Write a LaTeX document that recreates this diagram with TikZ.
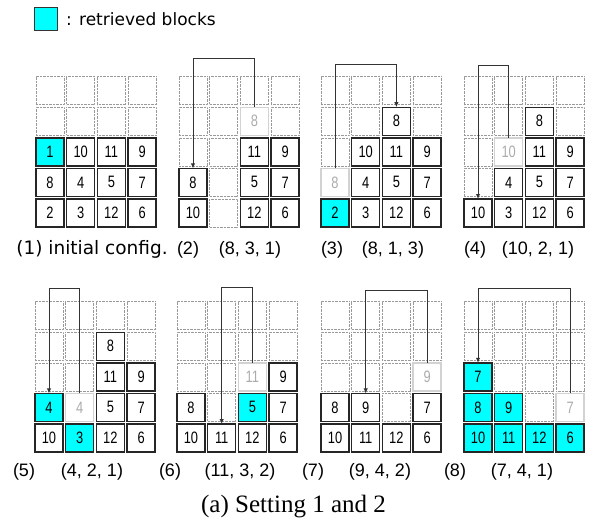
\documentclass[tikz,border=0pt]{standalone}
\usepackage{fontspec}
\setmainfont{DejaVu Sans}
\newfontfamily\numfont[FakeStretch=0.78]{Liberation Sans}
\newfontfamily\labfont{Liberation Sans}
\newfontfamily\capfont{Liberation Serif}
\usetikzlibrary{arrows.meta}
\definecolor{retr}{HTML}{00FFFF}
\tikzset{
 cellbase/.style={minimum size=28pt, inner sep=0pt, outer sep=0pt, font=\numfont\fontsize{16.5}{16.5}\selectfont},
 dotcell/.style={cellbase, draw=gray!80, dash pattern=on 0.5pt off 0.9pt, line width=0.6pt},
 blk/.style={cellbase, draw=black!85, line width=1.4pt, fill=white},
 cblk/.style={blk, fill=retr},
 gblk/.style={cellbase, draw=gray!35, line width=1.4pt, fill=white, text=gray!65},
 mv/.style={draw=black!80, line width=1pt, -{Latex[length=5pt,width=4.5pt]}},
 lab/.style={font=\labfont\fontsize{18}{18}\selectfont, anchor=base},
}
\newcommand\gridcells[3]{\foreach \c in {1,...,4}{\foreach \r in {1,...,5}{%
  \node[dotcell] (#1g\c\r) at ({#2+14+(\c-1)*30.7},{#3-14-(\r-1)*30.6}) {};}}}
\newcommand\blocks[5]{\foreach \c/\r/\n in {#5}{%
  \node[#4] (#1b\c\r) at ({#2+14+(\c-1)*30.7},{#3-14-(\r-1)*30.6}) {\n};}}
\begin{document}
\begin{tikzpicture}[x=1pt,y=-1pt]
\useasboundingbox (0,0) rectangle (590,522);
% legend
\node[draw=black!80, fill=retr, minimum size=23pt, inner sep=0pt, line width=0.8pt] (leg) at (45.5,18.5) {};
\node[anchor=base west, font=\fontsize{17}{17}\selectfont, inner sep=0pt] (legt) at (66,25) {: retrieved blocks};
% panel 1
\gridcells{p1}{36}{227}
\blocks{p1}{36}{227}{blk}{1/1/2,2/1/3,3/1/12,4/1/6,1/2/8,2/2/4,3/2/5,4/2/7,2/3/10,3/3/11,4/3/9}
\blocks{p1}{36}{227}{cblk}{1/3/1}
\node[anchor=base, font=\fontsize{18.5}{18.5}\selectfont, inner sep=0pt] (l1) at (92,254) {(1) initial config.};
% panel 2
\gridcells{p2}{179}{227}
\blocks{p2}{179}{227}{blk}{1/1/10,3/1/12,4/1/6,1/2/8,3/2/5,4/2/7,3/3/11,4/3/9}
\blocks{p2}{179}{227}{gblk}{3/4/8}
\coordinate (t2) at (0,58);
\draw[mv] (p2b34.north) -- (p2b34.north |- t2) -| (p2b12.north);
\node[lab] (n2) at (188,254) {(2)};
\node[lab] (k2) at (250,254) {(8, 3, 1)};
% panel 3
\gridcells{p3}{321}{227}
\blocks{p3}{321}{227}{blk}{2/1/3,3/1/12,4/1/6,2/2/4,3/2/5,4/2/7,2/3/10,3/3/11,4/3/9,3/4/8}
\blocks{p3}{321}{227}{cblk}{1/1/2}
\blocks{p3}{321}{227}{gblk}{1/2/8}
\coordinate (t3) at (0,64);
\draw[mv] (p3b12.north) -- (p3b12.north |- t3) -| (p3b34.north);
\node[lab] (n3) at (332,254) {(3)};
\node[lab] (k3) at (393,254) {(8, 1, 3)};
% panel 4
\gridcells{p4}{464}{227}
\blocks{p4}{464}{227}{blk}{1/1/10,2/1/3,3/1/12,4/1/6,2/2/4,3/2/5,4/2/7,3/3/11,4/3/9,3/4/8}
\blocks{p4}{464}{227}{gblk}{2/3/10}
\coordinate (t4) at (0,65);
\draw[mv] (p4b23.north) -- (p4b23.north |- t4) -| (p4b11.north);
\node[lab] (n4) at (475,254) {(4)};
\node[lab] (k4) at (538,254) {(10, 2, 1)};
% panel 5
\gridcells{p5}{35}{452}
\blocks{p5}{35}{452}{blk}{1/1/10,3/1/12,4/1/6,3/2/5,4/2/7,3/3/11,4/3/9,3/4/8}
\blocks{p5}{35}{452}{cblk}{2/1/3,1/2/4}
\blocks{p5}{35}{452}{gblk}{2/2/4}
\coordinate (t5) at (0,288);
\draw[mv] (p5b22.north) -- (p5b22.north |- t5) -| (p5b12.north);
\node[lab] (n5) at (24,476) {(5)};
\node[lab] (k5) at (92,476) {(4, 2, 1)};
% panel 6
\gridcells{p6}{177}{452}
\blocks{p6}{177}{452}{blk}{1/1/10,2/1/11,3/1/12,4/1/6,1/2/8,4/2/7,4/3/9}
\blocks{p6}{177}{452}{cblk}{3/2/5}
\blocks{p6}{177}{452}{gblk}{3/3/11}
\coordinate (t6) at (0,287);
\draw[mv] (p6b33.north) -- (p6b33.north |- t6) -| (p6b21.north);
\node[lab] (n6) at (170,476) {(6)};
\node[lab] (k6) at (240,476) {(11, 3, 2)};
% panel 7
\gridcells{p7}{321}{452}
\blocks{p7}{321}{452}{blk}{1/1/10,2/1/11,3/1/12,4/1/6,1/2/8,2/2/9,4/2/7}
\blocks{p7}{321}{452}{gblk}{4/3/9}
\coordinate (t7) at (0,290);
\draw[mv] (p7b43.north) -- (p7b43.north |- t7) -| (p7b22.north);
\node[lab] (n7) at (313,476) {(7)};
\node[lab] (k7) at (380,476) {(9, 4, 2)};
% panel 8
\gridcells{p8}{464}{452}
\blocks{p8}{464}{452}{cblk}{1/1/10,2/1/11,3/1/12,4/1/6,1/2/8,2/2/9,1/3/7}
\blocks{p8}{464}{452}{gblk}{4/2/7}
\coordinate (t8) at (0,288);
\draw[mv] (p8b42.north) -- (p8b42.north |- t8) -| (p8b13.north);
\node[lab] (n8) at (455,476) {(8)};
\node[lab] (k8) at (522,476) {(7, 4, 1)};
% caption
\node[anchor=base, font=\capfont\fontsize{25}{25}\selectfont, inner sep=0pt] (cap) at (293.5,512) {(a) Setting 1 and 2};
\end{tikzpicture}
\end{document}
